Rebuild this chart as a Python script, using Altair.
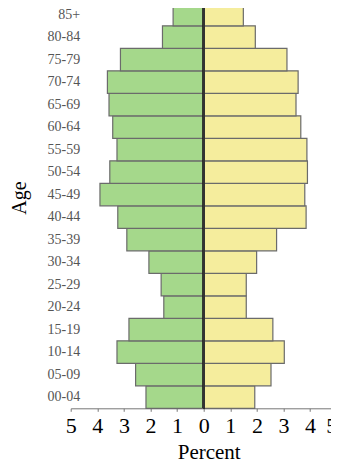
import altair as alt
import pandas as pd

ages = ["00-04", "05-09", "10-14", "15-19", "20-24", "25-29", "30-34", "35-39",
        "40-44", "45-49", "50-54", "55-59", "60-64", "65-69", "70-74", "75-79",
        "80-84", "85+"]
left_pct = [2.17, 2.56, 3.26, 2.81, 1.50, 1.60, 2.06, 2.89,
            3.23, 3.90, 3.53, 3.26, 3.42, 3.56, 3.62, 3.13,
            1.55, 1.15]
right_pct = [1.92, 2.53, 3.03, 2.60, 1.60, 1.60, 1.99, 2.74,
             3.85, 3.80, 3.90, 3.88, 3.65, 3.47, 3.55, 3.13,
             1.94, 1.49]
sides = ["Left", "Right"]
colors = ["#a5d88b", "#f5ed9d"]
x_ticks = [-5, -4, -3, -2, -1, 0, 1, 2, 3, 4, 5]

rows = []
for a, l, r in zip(ages, left_pct, right_pct):
    rows.append({"age": a, "side": sides[0], "value": -l})
    rows.append({"age": a, "side": sides[1], "value": r})
df = pd.DataFrame(rows)

FONT = "Liberation Serif"
order = list(reversed(ages))

xscale = alt.Scale(domain=[-5, 5], nice=False, range=[0, 266])
xaxis = alt.Axis(values=x_ticks,
                 labelExpr="'' + abs(datum.value)",
                 grid=False, domainColor="#777", tickColor="#777",
                 tickSize=3, labelFont=FONT, labelFontSize=22,
                 labelColor="#000", labelPadding=4,
                 labelOverlap=False, labelFlush=False,
                 labelAlign=alt.condition("datum.value >= 5",
                                          alt.value("right"),
                                          alt.value("center")),
                 title="Percent", titleFont=FONT, titleFontSize=21,
                 titleFontWeight="normal", titleColor="#000",
                 titleBaseline="alphabetic", titleY=50,
                 titleX=138, titleAlign="center")

bars = alt.Chart(df).mark_bar(stroke="#6b6b6b", strokeWidth=1.2).encode(
    x=alt.X("value:Q", scale=xscale, axis=xaxis, title="Percent"),
    y=alt.Y("age:N", sort=order,
            scale=alt.Scale(range=[-4.7, 400.3], paddingInner=0,
                            paddingOuter=0),
            axis=alt.Axis(ticks=False, domain=False, offset=-11,
                          labelFont=FONT, labelFontSize=14, labelColor="#555",
                          labelPadding=2,
                          title="Age", titleFont=FONT, titleFontSize=20,
                          titleFontWeight="normal", titleColor="#000",
                          titlePadding=18, titleY=189.5)),
    color=alt.Color("side:N", scale=alt.Scale(domain=sides, range=colors),
                    legend=None),
)

zero = alt.Chart(df).mark_rule(color="#333", strokeWidth=1.5).encode(
    x=alt.X(datum=0, type="quantitative", scale=xscale, axis=xaxis,
            title="Percent")
)

chart = alt.layer(bars, zero).properties(
    width=260.3, height=400.3,
    autosize=alt.AutoSizeParams(type="none"),
    padding={"left": 62.7, "top": 0, "right": 0, "bottom": 55.7},
).configure_view(stroke=None)

chart.save("out.html", embed_options={"renderer": "svg", "actions": False})
